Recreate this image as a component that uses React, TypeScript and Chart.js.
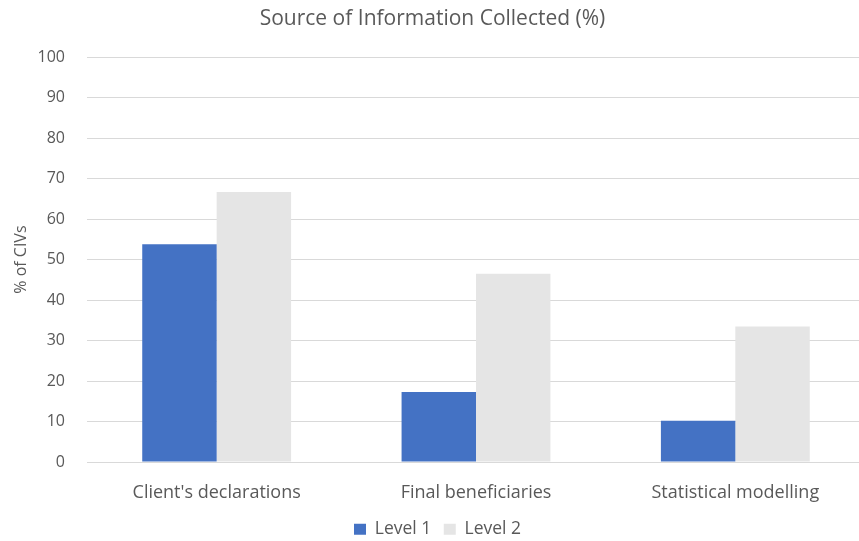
import React, { useEffect, useRef } from "react";
import { Chart, registerables } from "chart.js";

Chart.register(...registerables);

const categories = ["Client's declarations", "Final beneficiaries", "Statistical modelling"];
const level1 = [53.8, 17.3, 10.2];
const level2 = [66.7, 46.5, 33.5];
const seriesNames = ["Level 1", "Level 2"];
const chartTitle = "Source of Information Collected (%)";
const yTitle = "% of CIVs";

const FONT = "'Open Sans', sans-serif";
const TEXT = "#595959";
const GRID = "#D9D9D9";

const legendShift = {
  id: "legendShift",
  afterLayout(chart: any) {
    const l = chart.legend;
    if (l) {
      l.left += 5;
      l.right += 5;
    }
  },
};

export default function App() {
  const ref = useRef<HTMLCanvasElement | null>(null);
  useEffect(() => {
    if (!ref.current) return;
    const chart = new Chart(ref.current, {
      type: "bar",
      data: {
        labels: categories,
        datasets: [
          { label: seriesNames[0], data: level1, backgroundColor: "#4472C4", borderWidth: 0 },
          { label: seriesNames[1], data: level2, backgroundColor: "#E5E5E5", borderWidth: 0 },
        ],
      },
      options: {
        responsive: false,
        animation: false,
        layout: { padding: { left: 0, right: 3, top: 0, bottom: 0 } },
        datasets: { bar: { categoryPercentage: 0.574, barPercentage: 1 } },
        plugins: {
          title: {
            display: true,
            text: chartTitle,
            color: TEXT,
            font: { family: FONT, size: 21, weight: "normal" },
            padding: { top: 6, bottom: 26 },
          },
          legend: {
            position: "bottom",
            labels: {
              color: TEXT,
              font: { family: FONT, size: 17.5 },
              boxWidth: 12,
              boxHeight: 11,
              padding: 12.5,
            },
          },
          tooltip: { enabled: false },
        },
        scales: {
          x: {
            grid: { display: false, drawTicks: false },
            border: { display: true, color: GRID, width: 1 },
            ticks: { color: TEXT, font: { family: FONT, size: 18 }, padding: 20, maxRotation: 0 },
            afterFit: (s: any) => { s.height = 46; },
          },
          y: {
            min: 0,
            max: 100,
            ticks: { stepSize: 10, color: TEXT, font: { family: FONT, size: 16 }, padding: 22 },
            grid: { color: GRID, lineWidth: 1, drawTicks: false },
            border: { display: false },
            title: {
              display: true,
              text: yTitle,
              color: TEXT,
              font: { family: FONT, size: 16 },
              padding: { top: 12, bottom: 0 },
            },
            afterFit: (s: any) => { s.width = 87; },
          },
        },
      },
      plugins: [legendShift],
    });
    return () => chart.destroy();
  }, []);
  return (
    <div style={{ position: "fixed", left: 0, top: 0, width: 859, height: 541, overflow: "hidden", background: "#fff" }}>
      <canvas ref={ref} width={868} height={548} style={{ width: 868, height: 548, display: "block" }} />
    </div>
  );
}
